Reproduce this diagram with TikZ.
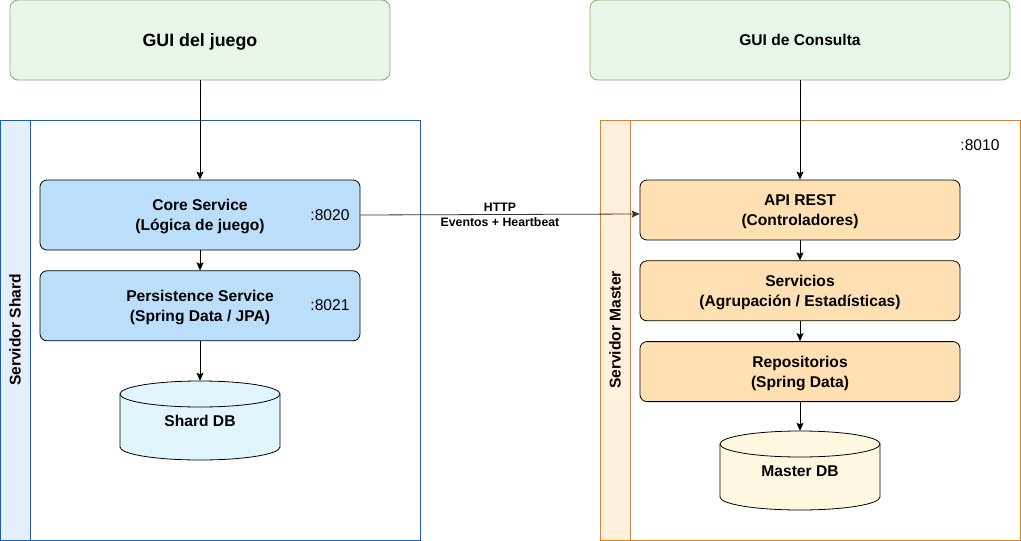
\documentclass[tikz,border=0pt]{standalone}
\usepackage{fontspec}
\setmainfont{Liberation Sans}
\usepackage{tikz}
\usetikzlibrary{arrows.meta,positioning}

\definecolor{guifill}{HTML}{E8F5E9}
\definecolor{guidraw}{HTML}{82B366}
\definecolor{shardline}{HTML}{0066CC}
\definecolor{shardstrip}{HTML}{E3F0FB}
\definecolor{shardbox}{HTML}{BBDEFB}
\definecolor{sharddb}{HTML}{E1F5FE}
\definecolor{masterline}{HTML}{F08000}
\definecolor{masterstrip}{HTML}{FFF0DC}
\definecolor{masterbox}{HTML}{FFE0B2}
\definecolor{masterdb}{HTML}{FFF8E1}

\begin{document}
\begin{tikzpicture}[
  x=1pt, y=-1pt,
  node distance=20pt,
  gui/.style={draw=guidraw, fill=guifill, rounded corners=8pt, line width=0.8pt, minimum height=80pt, text depth=0pt, align=center, font=\fontsize{15.6}{18}\selectfont\bfseries},
  box/.style={draw, rounded corners=7pt, line width=0.8pt, minimum width=320pt, text depth=0pt, align=center, font=\fontsize{15.6}{19.5}\selectfont\bfseries},
  port/.style={font=\fontsize{15.6}{18}\selectfont},
  db/.style={minimum width=160pt, minimum height=80pt, font=\fontsize{15.6}{18}\selectfont\bfseries},
  side/.style={rotate=90, font=\fontsize{15.6}{18}\selectfont\bfseries},
  arrow/.style={-{Stealth[length=8pt,width=7pt,inset=1.5pt]}, line width=0.8pt}
]
  \useasboundingbox (0,0) rectangle (1021,541);

  % contenedores
  \draw[shardline, line width=0.8pt, fill=white] (0.5,120.5) rectangle (420,540.5);
  \draw[shardline, line width=0.8pt, fill=shardstrip] (0.5,120.5) rectangle (30,540.5);
  \node[side] (shardTitle) at (15,330) {Servidor Shard};

  \draw[masterline, line width=0.8pt, fill=white] (600,120.5) rectangle (1020.5,540.5);
  \draw[masterline, line width=0.8pt, fill=masterstrip] (600,120.5) rectangle (630,540.5);
  \node[side] (masterTitle) at (615,330) {Servidor Master};

  % GUIs
  \node[gui, minimum width=380pt, font=\fontsize{17.8}{20}\selectfont\bfseries] (guiJuego) at (200,40) {GUI del juego};
  \node[gui, minimum width=420pt] (guiConsulta) at (800,40) {GUI de Consulta};

  % shard
  \node[box, fill=shardbox, minimum height=70pt] (core) at (200,215) {Core Service\\(Lógica de juego)};
  \node[box, fill=shardbox, minimum height=70pt, below=of core] (persist) {Persistence Service\\(Spring Data / JPA)};
  \node[port] (corePort) at (330,215) {:8020};
  \node[port] (persistPort) at (330,305) {:8021};
  \draw[fill=sharddb, line width=0.8pt] (120,394) -- (120,447) arc[start angle=180, end angle=0, x radius=80, y radius=13] -- (280,394);
  \draw[fill=sharddb, line width=0.8pt] (200,394) ellipse[x radius=80, y radius=13];
  \node[db] (shardDB) at (200,421) {Shard DB};

  % master
  \node[port] (masterPort) at (980,145) {:8010};
  \node[box, fill=masterbox, minimum height=60pt] (api) at (800,210) {API REST\\(Controladores)};
  \node[box, fill=masterbox, minimum height=60pt, below=of api] (servicios) {Servicios\\(Agrupación / Estadísticas)};
  \node[box, fill=masterbox, minimum height=60pt, below=of servicios] (repos) {Repositorios\\(Spring Data)};
  \draw[fill=masterdb, line width=0.8pt] (720,444) -- (720,497) arc[start angle=180, end angle=0, x radius=80, y radius=13] -- (880,444);
  \draw[fill=masterdb, line width=0.8pt] (800,444) ellipse[x radius=80, y radius=13];
  \node[db] (masterDB) at (800,471) {Master DB};

  % flechas
  \draw[arrow] (guiJuego) -- (core);
  \draw[arrow] (core) -- (persist);
  \draw[arrow] (persist) -- (shardDB.north);
  \draw[arrow] (guiConsulta) -- (api);
  \draw[arrow] (api) -- (servicios);
  \draw[arrow] (servicios) -- (repos);
  \draw[arrow] (repos) -- (masterDB.north);
  \draw[arrow, black!80] (core.east) -- node[above=-1pt, black, font=\fontsize{12.3}{14}\selectfont\bfseries]{HTTP} node[below=-1pt, black, font=\fontsize{12.3}{14}\selectfont\bfseries]{Eventos + Heartbeat} ([yshift=-4pt]api.west);
\end{tikzpicture}
\end{document}
